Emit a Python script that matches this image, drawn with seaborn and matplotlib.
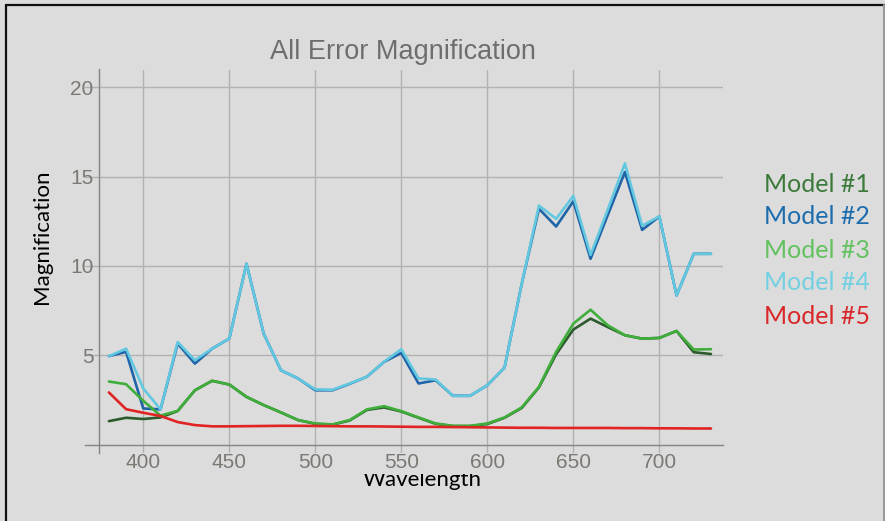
import matplotlib
matplotlib.use("Agg")
import matplotlib.pyplot as plt
from matplotlib.lines import Line2D
from matplotlib.patches import Rectangle
from matplotlib.ticker import MultipleLocator, FixedLocator
import numpy as np
import pandas as pd
import seaborn as sns

# Wavelength samples (nm)
wavelength = [380, 390, 400, 410, 420, 430, 440, 450, 460, 470, 480, 490,
              500, 510, 520, 530, 540, 550, 560, 570, 580, 590, 600, 610,
              620, 630, 640, 650, 660, 670, 680, 690, 700, 710, 720, 730]

model_1 = [1.31, 1.50, 1.43, 1.52, 1.88, 3.04, 3.57, 3.36, 2.67, 2.21, 1.80, 1.37,
           1.16, 1.11, 1.35, 1.94, 2.08, 1.85, 1.50, 1.16, 1.03, 1.03, 1.15, 1.50,
           2.05, 3.20, 5.06, 6.44, 7.05, 6.58, 6.12, 5.93, 5.97, 6.36, 5.17, 5.07]
model_2 = [4.95, 5.19, 2.02, 1.97, 5.65, 4.53, 5.37, 5.93, 10.12, 6.21, 4.16, 3.70,
           3.04, 3.04, 3.40, 3.80, 4.63, 5.13, 3.42, 3.60, 2.73, 2.73, 3.32, 4.31,
           9.00, 13.20, 12.21, 13.62, 10.40, 12.85, 15.26, 12.02, 12.77, 8.35, 10.68, 10.68]
model_3 = [3.53, 3.38, 2.45, 1.62, 1.89, 3.04, 3.57, 3.36, 2.67, 2.21, 1.80, 1.37,
           1.18, 1.13, 1.37, 1.97, 2.15, 1.87, 1.52, 1.18, 1.05, 1.05, 1.18, 1.52,
           2.08, 3.23, 5.19, 6.77, 7.55, 6.68, 6.12, 5.93, 5.97, 6.36, 5.32, 5.34]
model_4 = [4.95, 5.37, 3.14, 1.97, 5.74, 4.72, 5.37, 5.93, 10.12, 6.21, 4.16, 3.70,
           3.09, 3.07, 3.42, 3.80, 4.64, 5.34, 3.70, 3.64, 2.73, 2.73, 3.32, 4.31,
           9.00, 13.38, 12.64, 13.92, 10.62, 13.15, 15.74, 12.25, 12.78, 8.35, 10.68, 10.68]
model_5 = [2.92, 1.98, 1.78, 1.60, 1.26, 1.09, 1.02, 1.02, 1.03, 1.04, 1.05, 1.05,
           1.04, 1.03, 1.02, 1.02, 1.01, 1.00, 0.99, 0.99, 0.98, 0.97, 0.96, 0.95,
           0.94, 0.94, 0.93, 0.93, 0.93, 0.93, 0.92, 0.92, 0.91, 0.91, 0.90, 0.90]

model_names = ["Model #1", "Model #2", "Model #3", "Model #4", "Model #5"]
series = [model_1, model_2, model_3, model_4, model_5]

line_colors = ["#2c5a2c", "#1f64a8", "#3fae3a", "#62c8e0", "#e02424"]
label_colors = ["#3b7a3b", "#1c6cae", "#63c25f", "#72d0e2", "#d8282a"]

df = pd.DataFrame({
    "Wavelength": np.tile(wavelength, len(series)),
    "Magnification": np.concatenate(series),
    "Model": np.repeat(model_names, len(wavelength)),
})

BG = "#dcdcdc"
sns.set_style("white", {"axes.facecolor": BG, "figure.facecolor": BG})
plt.rcParams["font.family"] = ["Liberation Sans", "DejaVu Sans"]

W, H = 885, 521
fig = plt.figure(figsize=(W / 100, H / 100), dpi=100)
fig.patch.set_facecolor(BG)

x0, x1 = 366.0, 737.0
y0, y1 = -0.45, 21.0
ax = fig.add_axes([84.8 / W, 1 - 452.6 / H, (723 - 84.8) / W, (452.6 - 69.5) / H])
ax.set_facecolor(BG)

sns.lineplot(data=df, x="Wavelength", y="Magnification", hue="Model",
             hue_order=model_names, palette=dict(zip(model_names, line_colors)),
             linewidth=1.9, legend=False, ax=ax, zorder=3)

ax.set_xlim(x0, x1)
ax.set_ylim(y0, y1)

# Axes cross near the lower-left corner, classic function-plot style
ax.spines["left"].set_position(("data", 374.4))
ax.spines["bottom"].set_position(("data", 0))
for s in ["top", "right"]:
    ax.spines[s].set_visible(False)
for s in ["left", "bottom"]:
    ax.spines[s].set_color("#858585")
    ax.spines[s].set_linewidth(1.0)

ax.xaxis.set_major_locator(FixedLocator([400, 450, 500, 550, 600, 650, 700]))
ax.xaxis.set_minor_locator(MultipleLocator(10))
ax.yaxis.set_major_locator(FixedLocator([5, 10, 15, 20]))
ax.yaxis.set_minor_locator(MultipleLocator(1))
ax.tick_params(which="major", direction="in", length=6, width=1.0, color="#858585",
               labelsize=15, labelcolor="#7c7874")
ax.tick_params(which="minor", direction="in", length=3.5, width=0.8, color="#858585")
ax.tick_params(axis="x", which="major", pad=6)
ax.tick_params(axis="y", which="major", pad=4)

ax.grid(True, which="major", color="#b2b2b2", linewidth=1.0, zorder=0)
ax.set_axisbelow(True)
ax.set_xlabel("")
ax.set_ylabel("")

fig.text(403 / W, 1 - 52 / H, "All Error Magnification", ha="center", va="center",
         fontsize=19.5, color="#6e6e6e")

fig.text(42 / W, 1 - 237 / H, "Magnification", rotation=90, ha="center", va="center",
         fontsize=16, color="black", family=["Lato", "DejaVu Sans"])

# Axis caption whose upper part is tucked under the plot panel
fig.text(422 / W, 1 - 486 / H, "Wavelength", ha="center", va="baseline",
         fontsize=16, color="black", family=["Lato", "DejaVu Sans"], zorder=3)
fig.add_artist(Rectangle((360 / W, 1 - 473.5 / H), (125 / W), (4.5 / H),
                         transform=fig.transFigure, facecolor=BG, edgecolor="none",
                         zorder=4))

legend_y = [184, 217, 250, 283, 316]
for name, col, yy in zip(model_names, label_colors, legend_y):
    fig.text(764 / W, 1 - yy / H, name, ha="left", va="center", fontsize=18,
             color=col, family=["Lato", "DejaVu Sans"])

# Slide frame edges
fig.add_artist(Line2D([6 / W, 1], [1 - 4.5 / H, 1 - 4.5 / H], color="#111111", lw=1.6,
                      transform=fig.transFigure))
fig.add_artist(Line2D([6 / W, 6 / W], [0, 1 - 4.5 / H], color="#111111", lw=1.6,
                      transform=fig.transFigure))
fig.add_artist(Line2D([883.5 / W, 883.5 / W], [0, 1 - 4.5 / H], color="#9a9a9a", lw=1.5,
                      transform=fig.transFigure))

fig.savefig("out.png", dpi=100, facecolor=BG)
